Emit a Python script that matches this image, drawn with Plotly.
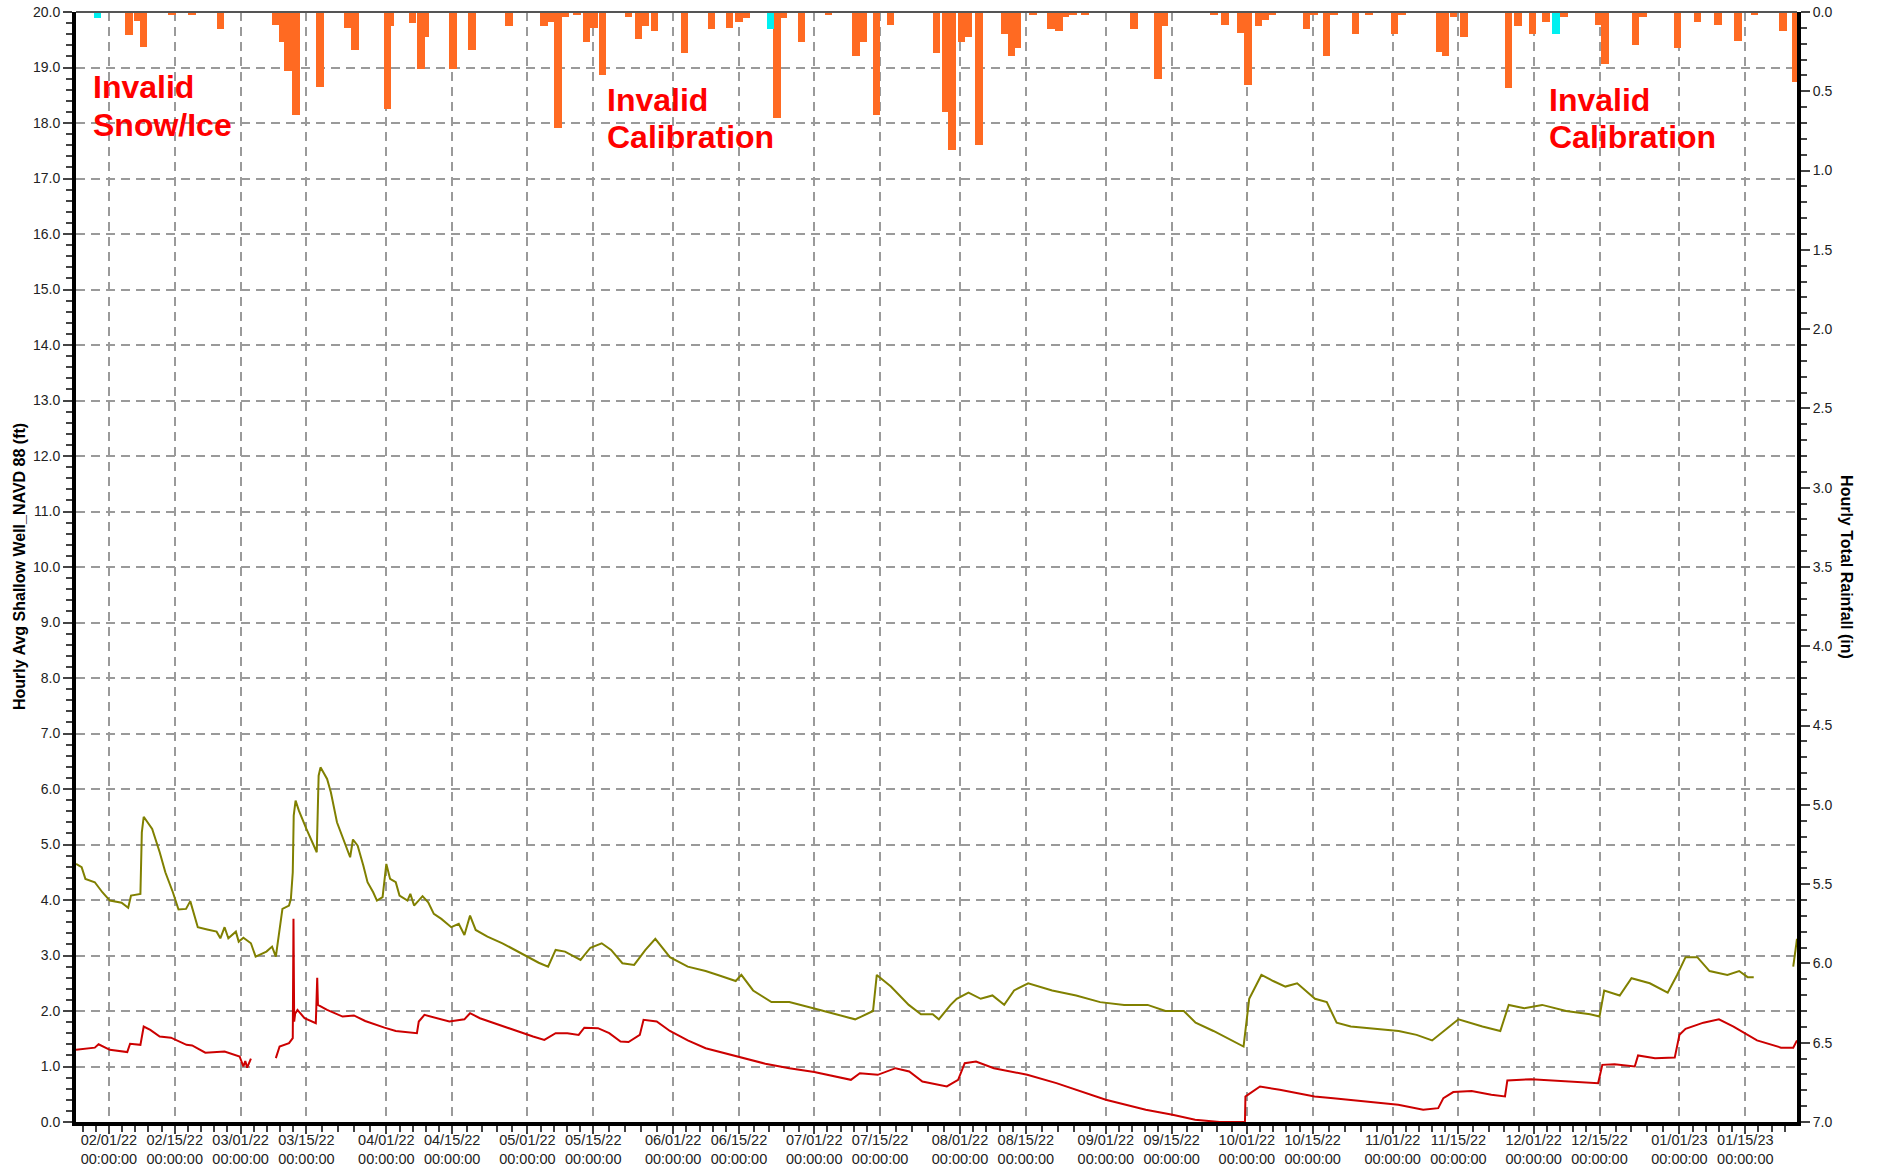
import plotly.graph_objects as go
import pandas as pd

START = pd.Timestamp("2022-01-25")
END = pd.Timestamp("2023-01-26")

# ---- x-axis tick dates ----
tick_dates = ["2022-02-01", "2022-02-15", "2022-03-01", "2022-03-15", "2022-04-01", "2022-04-15",
              "2022-05-01", "2022-05-15", "2022-06-01", "2022-06-15", "2022-07-01", "2022-07-15",
              "2022-08-01", "2022-08-15", "2022-09-01", "2022-09-15", "2022-10-01", "2022-10-15",
              "2022-11-01", "2022-11-15", "2022-12-01", "2022-12-15", "2023-01-01", "2023-01-15"]
tick_labels = [pd.Timestamp(d).strftime("%m/%d/%y") + "<br>00:00:00" for d in tick_dates]

# ---- Shallow well (olive), days since 2022-01-25 and ft NAVD88 ----
olive_day = [0, 1.2, 2, 4, 5.6, 7.2, 9.7, 11.1, 11.7, 13.7, 14.0, 14.4, 16.2, 17.8, 19, 20.6, 21.8,
             23.4, 24.3, 25.1, 25.9, 27.9, 29.9, 30.7, 31.6, 32.4, 34, 34.6, 35.6, 37.2, 38.2, 40.5,
             41.7, 42.5, 43.3, 43.9, 45.3, 45.7, 46.1, 46.3, 46.7, 47.4, 49, 50.2, 51.2, 51.6, 52,
             53.4, 54.2, 55.5, 57.1, 58.3, 58.9, 59.9, 61.1, 62, 63.2, 64, 65.2, 66, 66.8, 68, 68.8,
             70.5, 71.1, 71.9, 73.7, 74.9, 76.1, 77.7, 79.8, 81.4, 82.6, 83.8, 85, 87.5, 90.7, 94,
             97.2, 98.4, 100.4, 102, 104, 107.3, 109.4, 111.8, 113.8, 116.2, 118.7, 121.1, 123.2,
             126.3, 130.1, 133.9, 136.5, 140.3, 141.5, 144, 147.9, 151.7, 156.8, 161.9, 165.7, 167,
             169.5, 170.3, 173.3, 177.1, 179.7, 182.2, 183.5, 186, 187.3, 189.8, 192.4, 194.9, 197.4,
             199.5, 202.5, 207.6, 212.7, 217.8, 222.9, 227.9, 231.7, 235.6, 238.1, 241.9, 245.7,
             248.3, 249.5, 252.1, 254.6, 257.2, 259.7, 263.5, 266, 268.1, 271.1, 276.2, 281.3, 285.1,
             288.4, 291.5, 294, 299.1, 302.9, 304.7, 308, 311.8, 316.9, 322, 324, 325, 328.3, 330.8,
             334.7, 338.5, 340.5, 342.3, 344.8, 347.4, 351.2, 353.7, 355.5, 356.8, None, 365.2, 366]
olive_ft = [4.65, 4.59, 4.38, 4.32, 4.14, 3.99, 3.95, 3.86, 4.08, 4.11, 5.22, 5.50, 5.28, 4.86, 4.50,
            4.14, 3.83, 3.84, 3.98, 3.72, 3.51, 3.47, 3.43, 3.31, 3.51, 3.31, 3.43, 3.25, 3.32, 3.22,
            2.98, 3.07, 3.16, 2.98, 3.49, 3.84, 3.90, 4.02, 4.50, 5.52, 5.79, 5.61, 5.28, 5.04, 4.86,
            6.24, 6.39, 6.18, 5.94, 5.40, 5.04, 4.77, 5.09, 4.98, 4.62, 4.32, 4.14, 3.99, 4.05, 4.65,
            4.38, 4.32, 4.08, 3.99, 4.11, 3.90, 4.07, 3.96, 3.75, 3.66, 3.51, 3.57, 3.37, 3.72, 3.46,
            3.34, 3.22, 3.07, 2.92, 2.87, 2.80, 3.10, 3.07, 2.92, 3.14, 3.22, 3.10, 2.86, 2.83, 3.10,
            3.30, 2.97, 2.80, 2.72, 2.65, 2.54, 2.65, 2.37, 2.16, 2.16, 2.05, 1.94, 1.85, 1.90, 2.0,
            2.65, 2.44, 2.11, 1.94, 1.94, 1.85, 2.11, 2.22, 2.33, 2.22, 2.28, 2.11, 2.37, 2.50, 2.37,
            2.28, 2.16, 2.11, 2.11, 2.0, 2.0, 1.79, 1.64, 1.47, 1.36, 2.22, 2.65, 2.54, 2.44, 2.5,
            2.22, 2.16, 1.79, 1.72, 1.68, 1.64, 1.57, 1.47, 1.68, 1.85, 1.72, 1.64, 2.11, 2.05, 2.11,
            2.0, 1.94, 1.90, 2.37, 2.28, 2.59, 2.5, 2.33, 2.65, 2.97, 2.97, 2.72, 2.65, 2.72, 2.61,
            2.61, None, 2.8, 3.3]

# ---- Second well (red) ----
red_day = [0, 4, 4.8, 7.2, 10.9, 11.5, 13.7, 14.4, 15.8, 17.8, 20.2, 23.5, 24.7, 27.5, 31.6, 34.8,
           35.6, 36.0, 36.4, 37.2, None, 42.5, 43.3, 45.3, 46.1, 46.25, 46.4, 46.6, 47.1, 48.6, 51.0,
           51.3, 51.45, 53.4, 56.7, 59.1, 61.5, 65.6, 68.0, 72.5, 72.9, 74.1, 76.9, 79.4, 82.6, 83.8,
           85.9, 89.9, 94.0, 97.2, 99.6, 102.0, 104.5, 106.9, 108.1, 111.0, 113.4, 115.8, 117.5,
           119.9, 120.7, 123.5, 126.3, 130.1, 133.9, 137.7, 141.0, 146.6, 151.7, 157.0, 164.8, 166.7,
           170.5, 174.3, 177.2, 180.0, 185.2, 187.6, 189.0, 191.4, 195.2, 199.0, 202.3, 208.5, 219.0,
           227.5, 233.2, 238.0, 243.2, 248.6, 248.7, 249.2, 251.8, 256.0, 263.4, 267.4, 275.0, 281.2,
           286.5, 289.7, 290.8, 292.9, 296.8, 301.0, 303.9, 304.4, 309.5, 316.6, 323.7, 324.6, 327.2,
           331.5, 332.2, 335.8, 340.0, 341.0, 342.3, 346.1, 349.4, 352.5, 357.5, 362.6, 365.2, 366.0]
red_ft = [1.30, 1.34, 1.40, 1.30, 1.26, 1.41, 1.39, 1.72, 1.66, 1.54, 1.52, 1.39, 1.38, 1.25, 1.27,
          1.18, 1.00, 1.10, 0.98, 1.14, None, 1.15, 1.36, 1.42, 1.51, 3.66, 1.81, 1.95, 2.02, 1.87,
          1.78, 2.60, 2.11, 2.02, 1.90, 1.92, 1.82, 1.70, 1.64, 1.60, 1.81, 1.93, 1.87, 1.81, 1.85,
          1.96, 1.87, 1.75, 1.63, 1.54, 1.48, 1.60, 1.60, 1.57, 1.70, 1.69, 1.60, 1.45, 1.44, 1.57,
          1.84, 1.81, 1.64, 1.47, 1.33, 1.25, 1.18, 1.05, 0.97, 0.90, 0.76, 0.88, 0.85, 0.97, 0.91,
          0.73, 0.64, 0.76, 1.06, 1.09, 0.97, 0.91, 0.85, 0.70, 0.40, 0.22, 0.13, 0.04, 0.00, 0.00,
          0.46, 0.49, 0.64, 0.58, 0.46, 0.43, 0.37, 0.31, 0.22, 0.25, 0.43, 0.54, 0.56, 0.49, 0.46,
          0.75, 0.77, 0.73, 0.70, 1.03, 1.04, 1.00, 1.20, 1.15, 1.16, 1.57, 1.68, 1.79, 1.85, 1.72,
          1.47, 1.34, 1.34, 1.47]

# ---- Hourly rainfall (in) ----
rain_day = [11.3, 13.1, 14.4, 20.4, 24.7, 30.7, 42.4, 43.9, 45.1, 46.8, 51.9, 57.9, 59.3, 66.2, 66.9,
            71.6, 73.4, 74.3, 80.2, 84.2, 92.1, 99.5, 100.8, 102.5, 104.0, 106.5, 108.6, 110.2, 112.0,
            117.5, 119.6, 121.0, 123.0, 129.4, 135.1, 139.0, 141.0, 142.6, 149.1, 150.5, 154.3, 160.0,
            165.9, 167.5, 170.2, 173.2, 183.0, 185.0, 186.3, 188.3, 189.8, 192.0, 197.6, 198.9, 200.2,
            203.5, 207.3, 209.0, 210.3, 212.0, 214.6, 225.0, 230.1, 231.5, 242.0, 244.3, 247.8, 249.2,
            251.5, 253.0, 254.5, 261.7, 263.3, 265.9, 267.5, 272.1, 275.0, 280.4, 282.0, 290.0, 291.2,
            292.9, 295.2, 304.6, 306.7, 309.7, 312.6, 316.5, 323.8, 325.2, 331.7, 333.3, 340.6, 344.8,
            349.2, 353.5, 357.0, 363.0, 365.8]
rain_in = [0.143, 0.055, 0.218, 0.02, 0.02, 0.107, 0.08, 0.19, 0.37, 0.65, 0.47, 0.10, 0.24, 0.61, 0.09,
           0.07, 0.36, 0.16, 0.36, 0.24, 0.086, 0.086, 0.06, 0.73, 0.03, 0.02, 0.19, 0.10, 0.40,
           0.03, 0.17, 0.09, 0.12, 0.26, 0.11, 0.10, 0.06, 0.035, 0.67, 0.04, 0.19, 0.02,
           0.28, 0.19, 0.65, 0.08, 0.26, 0.63, 0.87, 0.19, 0.16, 0.84, 0.14, 0.28, 0.23,
           0.02, 0.11, 0.12, 0.03, 0.02, 0.02, 0.11, 0.42, 0.09, 0.02, 0.08, 0.13, 0.46,
           0.09, 0.05, 0.02, 0.11, 0.02, 0.28, 0.02, 0.14, 0.02, 0.14, 0.02, 0.25, 0.28,
           0.03, 0.16, 0.48, 0.086, 0.14, 0.06, 0.03, 0.08, 0.33, 0.21, 0.03, 0.23, 0.06,
           0.08, 0.18, 0.02, 0.12, 0.44]
# invalid rainfall hours (cyan)
bad_rain_day = [4.6, 147.7, 314.8]
bad_rain_in = [0.04, 0.11, 0.14]

# ---- annotation text (one entry per line) ----
note_lines = ["Invalid", "Snow/Ice", "Invalid", "Calibration", "Invalid", "Calibration"]
note_x = [0.0087, 0.0087, 0.3076, 0.3076, 0.8549, 0.8549]
note_y = [0.9505, 0.9163, 0.9388, 0.9055, 0.9388, 0.9055]


def to_time(days):
    return [None if d is None else START + pd.Timedelta(days=d) for d in days]


FONT = "Liberation Sans, Arial, sans-serif"
GRID = "#9a9a9a"
DAY_MS = 86400000

fig = go.Figure()
fig.add_trace(go.Bar(x=to_time(rain_day), y=rain_in, yaxis="y2", width=1.6 * DAY_MS,
                     marker=dict(color="#FF6A22", line=dict(width=0)), name="Rainfall"))
fig.add_trace(go.Bar(x=to_time(bad_rain_day), y=bad_rain_in, yaxis="y2", width=1.6 * DAY_MS,
                     marker=dict(color="#00F0F0", line=dict(width=0)), name="Invalid rainfall"))
fig.add_trace(go.Scatter(x=to_time(olive_day), y=olive_ft, mode="lines", connectgaps=False,
                         line=dict(color="#808000", width=2), name="Well A"))
fig.add_trace(go.Scatter(x=to_time(red_day), y=red_ft, mode="lines", connectgaps=False,
                         line=dict(color="#CC0000", width=2), name="Well B"))

# minor x ticks: five divisions of each labelled interval
majors = [pd.Timestamp(d) for d in tick_dates]
minor_vals = []
first_step = (majors[1] - majors[0]) / 5
t = majors[0] - first_step
while t >= START:
    minor_vals.append(t)
    t -= first_step
for a, b in zip(majors[:-1], majors[1:]):
    step = (b - a) / 5
    minor_vals += [a + step * k for k in range(1, 5)]
last_step = (majors[-1] - majors[-2]) / 5
t = majors[-1] + last_step
while t < END:
    minor_vals.append(t)
    t += last_step

fig.update_layout(
    width=1877, height=1170,
    margin=dict(l=76, r=80, t=12, b=48, autoexpand=False),
    paper_bgcolor="white", plot_bgcolor="white",
    showlegend=False, barmode="overlay", bargap=0,
    font=dict(family=FONT, size=14, color="#222"),
    xaxis=dict(
        type="date", range=[START, END], automargin=False,
        tickmode="array", tickvals=majors, ticktext=tick_labels,
        tickfont=dict(size=14.5, color="#222"), ticklabelstandoff=-6,
        ticks="outside", ticklen=8, tickwidth=1.5, tickcolor="#444",
        showgrid=True, gridcolor=GRID, griddash="9px,6px", gridwidth=1.5,
        showline=True, linecolor="black", linewidth=4, zeroline=False,
        minor=dict(tickmode="array", tickvals=minor_vals, ticks="outside", ticklen=6,
                   tickwidth=1.5, tickcolor="#444", showgrid=False),
    ),
    yaxis=dict(
        range=[0, 20], tick0=0, dtick=1, tickformat=".1f", automargin=False,
        tickfont=dict(size=14, color="#222"),
        ticks="outside", ticklen=9, tickwidth=1.5, tickcolor="#444",
        showgrid=True, gridcolor=GRID, griddash="9px,6px", gridwidth=1.5,
        showline=True, linecolor="black", linewidth=4, zeroline=False,
        minor=dict(dtick=0.2, ticks="outside", ticklen=6, tickwidth=1.5, tickcolor="#444",
                   showgrid=False),
    ),
    yaxis2=dict(
        overlaying="y", side="right", range=[7, 0], tick0=0, dtick=0.5, tickformat=".1f",
        automargin=False, tickfont=dict(size=14, color="#222"),
        ticks="outside", ticklen=9, tickwidth=1.5, tickcolor="#444",
        showgrid=False, showline=True, linecolor="black", linewidth=4, zeroline=False,
        minor=dict(dtick=0.1, ticks="outside", ticklen=6, tickwidth=1.5, tickcolor="#444"),
    ),
)

# thin top border
fig.add_shape(type="line", xref="paper", yref="paper", x0=0, x1=1, y0=1, y1=1,
              line=dict(color="#555", width=2))

# axis titles
fig.add_annotation(text="<b>Hourly Avg Shallow Well_NAVD 88 (ft)</b>", xref="paper", yref="paper",
                   x=-0.0331, y=0.5, xanchor="center", yanchor="middle", textangle=-90,
                   showarrow=False, font=dict(family=FONT, size=16, color="black"))
fig.add_annotation(text="<b>Hourly Total Rainfall (in)</b>", xref="paper", yref="paper",
                   x=1.0290, y=0.5, xanchor="center", yanchor="middle", textangle=90,
                   showarrow=False, font=dict(family=FONT, size=16, color="black"))

for txt, nx, ny in zip(note_lines, note_x, note_y):
    fig.add_annotation(text="<b>" + txt + "</b>", xref="paper", yref="paper", x=nx, y=ny,
                       xanchor="left", yanchor="top", align="left", showarrow=False,
                       font=dict(family=FONT, size=32, color="#FF0000"))

# remove the default page margin so the figure sits at the window's top-left corner
fig.write_html("out.html", config={"displayModeBar": False},
               post_script="document.body.style.margin='0';")
